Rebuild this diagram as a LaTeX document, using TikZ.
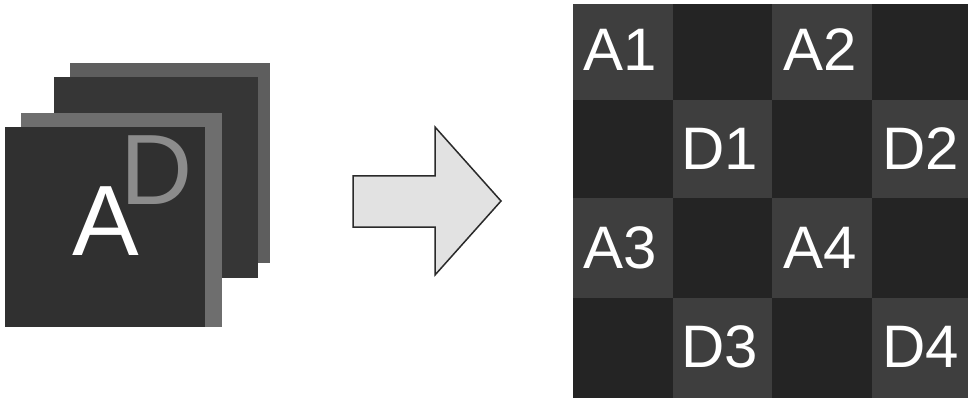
\documentclass[tikz,border=0pt]{standalone}
\usepackage{fontspec}
\setmainfont{Liberation Sans}
\definecolor{layerA}{HTML}{5E5E5E}
\definecolor{layerB}{HTML}{363636}
\definecolor{layerC}{HTML}{6E6E6E}
\definecolor{layerD}{HTML}{303030}
\definecolor{celllight}{HTML}{3E3E3E}
\definecolor{celldark}{HTML}{242424}
\definecolor{arrowfill}{HTML}{E2E2E2}
\definecolor{arrowline}{HTML}{2A2A2A}
\definecolor{dimtext}{HTML}{8C8C8C}
\begin{document}
\begin{tikzpicture}[x=1pt,y=-1pt,
  celltext/.style={text=white,font=\fontsize{60}{60}\selectfont,inner sep=0pt},
  bigtext/.style={font=\fontsize{100}{100}\selectfont,inner sep=0pt}]
\useasboundingbox (0,0) rectangle (968,398);
\fill[white] (0,0) rectangle (968,398);
% left stack of layers
\fill[layerA] (70,63) rectangle (270,263);
\fill[layerB] (54,77) rectangle (258,278);
\fill[layerC] (21,113) rectangle (222,327);
\fill[layerD] (5,127) rectangle (205,327);
\node[bigtext,text=dimtext] (Dl) at (157,170.5) {D};
\node[bigtext,text=white] (Al) at (106,221.5) {A};
% arrow
\draw[fill=arrowfill,draw=arrowline,line width=1.5pt,line join=miter]
  (353,176) -- (435,176) -- (435,127) -- (501,201) -- (435,275) -- (435,227) -- (353,227) -- cycle;
% grid
\foreach \c/\xa/\xb in {0/573/673,1/673/772,2/772/872,3/872/968}{
  \foreach \r/\ya/\yb in {0/4/100,1/100/198,2/198/298,3/298/398}{
    \pgfmathtruncatemacro{\cellpar}{mod(\c+\r,2)}
    \ifnum\cellpar=0 \fill[celllight] (\xa,\ya) rectangle (\xb,\yb);
    \else \fill[celldark] (\xa,\ya) rectangle (\xb,\yb); \fi
  }
}
\node[celltext] (A1) at (620,50) {A1};
\node[celltext] (A2) at (820,50) {A2};
\node[celltext] (D1) at (720,149) {D1};
\node[celltext] (D2) at (921,149) {D2};
\node[celltext] (A3) at (620,248) {A3};
\node[celltext] (A4) at (820,248) {A4};
\node[celltext] (D3) at (720,347) {D3};
\node[celltext] (D4) at (921,347) {D4};
\end{tikzpicture}
\end{document}
